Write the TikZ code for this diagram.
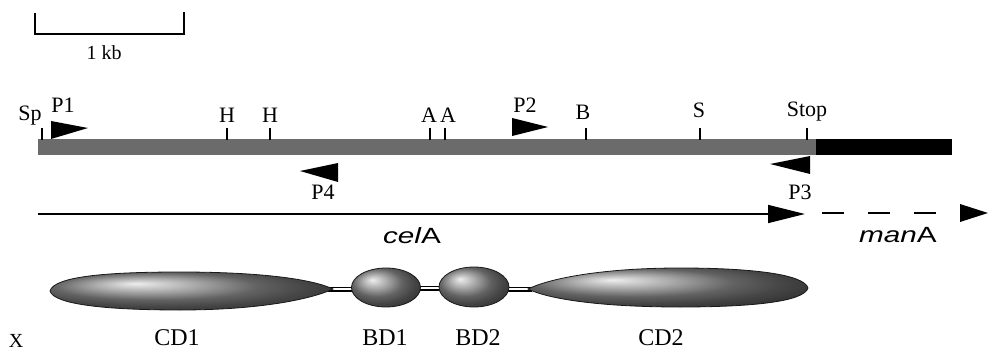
\documentclass[tikz,border=0pt]{standalone}
\usepackage{fontspec}
\setmainfont{Liberation Serif}
\newfontfamily\hsans{Liberation Sans}
\usepackage{graphicx}
\usetikzlibrary{arrows.meta}
\begin{document}
\begin{tikzpicture}[x=1pt,y=-1pt,
  lbl/.style={font=\fontsize{22}{24}\selectfont, anchor=base, inner sep=0pt},
  dlbl/.style={font=\fontsize{24}{26}\selectfont, anchor=base, inner sep=0pt},
  glbl/.style={font=\fontsize{22}{24}\selectfont, anchor=base, inner sep=0pt},
  sitetick/.style={line width=2pt},
  primer/.style={fill=black},
  dom/.style={ball color=black!45, draw=black!90, line width=0.8pt},
  linker/.style={double=white, double distance=2.4pt, line width=1.3pt},
  scalebar/.style={line width=2pt}
]
\useasboundingbox (0,0) rectangle (988,350);

% scale bar
\coordinate (sb1) at (35,13);
\coordinate (sb2) at (35,34);
\coordinate (sb3) at (184,34);
\coordinate (sb4) at (184,12);
\draw[scalebar] (sb1) -- (sb2) -- (sb3) -- (sb4);
\node[lbl, font=\fontsize{20}{22}\selectfont] (kb) at (104,60) {1 kb};

% main bar
\fill[black!58] (38,139) rectangle (816,155);
\fill[black] (816,139) rectangle (952,155);

% site ticks
\foreach \n/\x in {sp/42,h1/227,h2/270,a1/430,a2/445,b/586,s/700,stop/807}{
  \coordinate (t\n) at (\x,128);
  \coordinate (b\n) at (\x,140);
  \draw[sitetick] (t\n) -- (b\n);
}
\node[lbl] (Sp) at (30,121) {Sp};
\node[lbl] (H1) at (227,123) {H};
\node[lbl] (H2) at (270,123) {H};
\node[lbl] (A1) at (429,123) {A};
\node[lbl] (A2) at (448,123) {A};
\node[lbl] (B) at (583,120) {B};
\node[lbl] (S) at (699,118) {S};
\node[lbl] (Stop) at (807,117) {Stop};

% primers
\fill[primer] (51,121) -- (88,128) -- (51,139) -- cycle;
\node[lbl] (P1) at (63,113) {P1};
\fill[primer] (512,118) -- (548,127) -- (512,136) -- cycle;
\node[lbl] (P2) at (525,113) {P2};
\fill[primer] (338,163) -- (300,171) -- (338,182) -- cycle;
\node[lbl] (P4) at (323,200) {P4};
\fill[primer] (810,156) -- (770,164) -- (810,174) -- cycle;
\node[lbl] (P3) at (800,200) {P3};

% celA / manA arrows
\coordinate (celstart) at (38,214);
\coordinate (celend) at (805,214);
\draw[line width=1.6pt, -{Triangle[length=37pt,width=18pt]}] (celstart) -- (celend);
\coordinate (manstart) at (822,213);
\coordinate (manend) at (937,213);
\draw[line width=2pt, dash pattern=on 22pt off 24pt] (manstart) -- (manend);
\fill[black] (960,204) -- (988,213) -- (960,222) -- cycle;
\node[glbl] (celA) at (412,243) {\scalebox{1.35}[1]{\hsans\itshape cel\upshape A}};
\node[glbl] (manA) at (898,242) {\scalebox{1.35}[1]{\hsans\itshape man\upshape A}};

% linkers
\coordinate (l1a) at (328,289); \coordinate (l1b) at (356,289);
\coordinate (l2a) at (418,288); \coordinate (l2b) at (442,288);
\coordinate (l3a) at (506,289); \coordinate (l3b) at (532,289);
\draw[linker] (l1a) -- (l1b);
\draw[linker] (l2a) -- (l2b);
\draw[linker] (l3a) -- (l3b);

% domains
\shade[dom] (50,291) .. controls (54,276) and (110,272) .. (180,272)
  .. controls (260,272) and (312,279) .. (333,289)
  .. controls (312,299) and (260,310) .. (180,310)
  .. controls (110,310) and (54,305) .. (50,291) -- cycle;
\shade[dom] (386,287.5) ellipse [x radius=34.5, y radius=19.5];
\shade[dom] (474,287) ellipse [x radius=35, y radius=20];
\shade[dom] (528,289) .. controls (548,279) and (600,268) .. (680,268)
  .. controls (750,268) and (804,274) .. (808,288)
  .. controls (804,302) and (750,307) .. (680,307)
  .. controls (600,307) and (548,299) .. (528,289) -- cycle;

% domain labels
\node[dlbl, font=\fontsize{20}{22}\selectfont] (X) at (16,347) {X};
\node[dlbl] (CD1) at (177,345) {CD1};
\node[dlbl] (BD1) at (385,345) {BD1};
\node[dlbl] (BD2) at (478,345) {BD2};
\node[dlbl] (CD2) at (661,345) {CD2};
\end{tikzpicture}
\end{document}
